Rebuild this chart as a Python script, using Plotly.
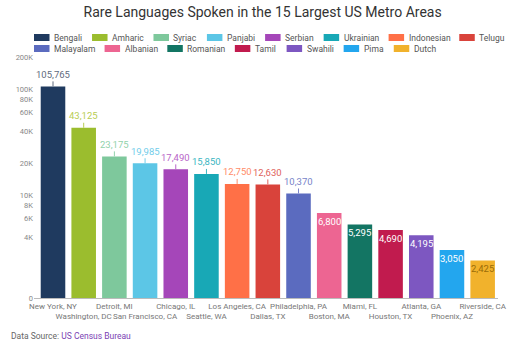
import numpy as np
import plotly.graph_objects as go

cities = ["New York, NY", "Washington, DC", "Detroit, MI", "San Francisco, CA", "Chicago, IL",
          "Seattle, WA", "Los Angeles, CA", "Dallas, TX", "Philadelphia, PA", "Boston, MA",
          "Miami, FL", "Houston, TX", "Atlanta, GA", "Phoenix, AZ", "Riverside, CA"]
languages = ["Bengali", "Amharic", "Syriac", "Panjabi", "Serbian", "Ukrainian", "Indonesian", "Telugu",
             "Malayalam", "Albanian", "Romanian", "Tamil", "Swahili", "Pima", "Dutch"]
speakers = [105765, 43125, 23175, 19985, 17490, 15850, 12750, 12630, 10370, 6800, 5295, 4690, 4195, 3050, 2425]

bar_colors = ["#1f3a5f", "#9bbd2e", "#7ec89c", "#5cc6e6", "#a546b9", "#18a8b6", "#ff7047", "#d9433b",
              "#5b6bbf", "#ed6592", "#137563", "#c11b4e", "#7d57c1", "#23a6ee", "#f1b22c"]
label_colors = ["#5f6b7e", "#b8cd52", "#92d2ab", "#72cdea", "#b866c8", "#3ab6c2", "#ff8c68", "#e0625b",
                "#7883c9", "#ffffff", "#ffffff", "#ffffff", "#ffffff", "#ffffff", "#9a6c08"]
inside_threshold = 8000

y_tick_vals = [1075, 4000, 6000, 8000, 10000, 20000, 40000, 60000, 80000, 100000, 200000]
y_tick_text = ["0", "4K", "6K", "8K", "10K", "20K", "40K", "60K", "80K", "100K", "200K"]

x_tick_text = [c if i % 2 == 0 else "<br>" + c for i, c in enumerate(cities)]

# approximate Roboto glyph widths (em) for laying out the legend
_W = {"a": .544, "b": .561, "c": .523, "d": .564, "e": .530, "f": .347, "g": .561, "h": .551, "i": .243,
      "j": .239, "k": .507, "l": .243, "m": .876, "n": .552, "o": .570, "p": .561, "r": .338, "s": .516,
      "t": .327, "u": .551, "v": .484, "w": .751, "y": .473, "z": .496, "A": .652, "B": .622, "D": .655,
      "I": .272, "M": .872, "P": .631, "R": .616, "S": .593, "T": .597, "U": .648}


def text_w(s, px_per_em=7.9):
    return sum(_W.get(ch, 0.55) for ch in s) * px_per_em


fig = go.Figure()
for lang, city, val, col in zip(languages, cities, speakers, bar_colors):
    fig.add_trace(go.Bar(x=[city], y=[val], name=lang, marker=dict(color=col, line=dict(width=0)),
                         hoverinfo="x+y+name", showlegend=False))

annotations = []
for city, val, lc in zip(cities, speakers, label_colors):
    txt = f"{val:,}"
    if val >= inside_threshold:
        annotations.append(dict(x=city, y=np.log10(val), xref="x", yref="y", text=txt,
                                showarrow=True, arrowhead=0, arrowwidth=1, arrowcolor=lc,
                                ax=0, ay=-12, standoff=0, font=dict(size=9.5, color=lc)))
    else:
        annotations.append(dict(x=city, y=np.log10(val), xref="x", yref="y", text=txt,
                                showarrow=False, yanchor="top", yshift=-1,
                                font=dict(size=9.5, color=lc)))

# manual legend (two flowing rows)
shapes = []
rows = [(0, 8, 19.5), (8, 15, 8.5)]
SW, GAP, SPACE = 15.5, 3.5, 13.0
for start, end, yoff in rows:
    xpos = 0.0
    for k in range(start, end):
        shapes.append(dict(type="rect", xref="paper", yref="paper", xsizemode="pixel", ysizemode="pixel",
                           xanchor=0, yanchor=1, x0=xpos, x1=xpos + SW, y0=yoff - 3.5, y1=yoff + 3.5,
                           fillcolor=bar_colors[k], line=dict(width=0)))
        annotations.append(dict(x=0, y=1, xref="paper", yref="paper", xanchor="left", yanchor="middle",
                                xshift=xpos + SW + GAP - 1, yshift=yoff, showarrow=False,
                                text=languages[k], font=dict(size=8.5, color="#555555")))
        xpos += SW + GAP + text_w(languages[k]) + SPACE

annotations.append(dict(x=0, y=0, xref="paper", yref="paper", xanchor="left", yanchor="middle",
                        xshift=-25, yshift=-38, showarrow=False,
                        text="Data Source: <span style='color:#7b3fb3'>US Census Bureau</span>",
                        font=dict(size=8.5, color="#666666")))

fig.update_layout(
    width=512, height=340,
    margin=dict(l=34, r=6, t=57, b=42),
    paper_bgcolor="white", plot_bgcolor="white",
    font=dict(family="Roboto", color="#666666"),
    title=dict(text="Rare Languages Spoken in the 15 Largest US Metro Areas",
               x=0.513, xanchor="center", y=0.963, yanchor="middle",
               font=dict(size=14, color="#333333")),
    barmode="overlay", bargap=0.2,
    showlegend=False,
    annotations=annotations,
    shapes=shapes,
)
fig.update_xaxes(type="category", tickvals=cities, ticktext=x_tick_text, tickangle=0,
                 tickfont=dict(size=8, color="#777777"), showgrid=False,
                 showline=True, linecolor="#bbbbbb", linewidth=1, ticks="")
fig.update_yaxes(type="log", range=[np.log10(1075), np.log10(200000)], tickvals=y_tick_vals,
                 ticktext=y_tick_text, tickfont=dict(size=7.5, color="#888888"),
                 showgrid=False, zeroline=False, showline=False, ticks="")

fig.write_html("out.html")
